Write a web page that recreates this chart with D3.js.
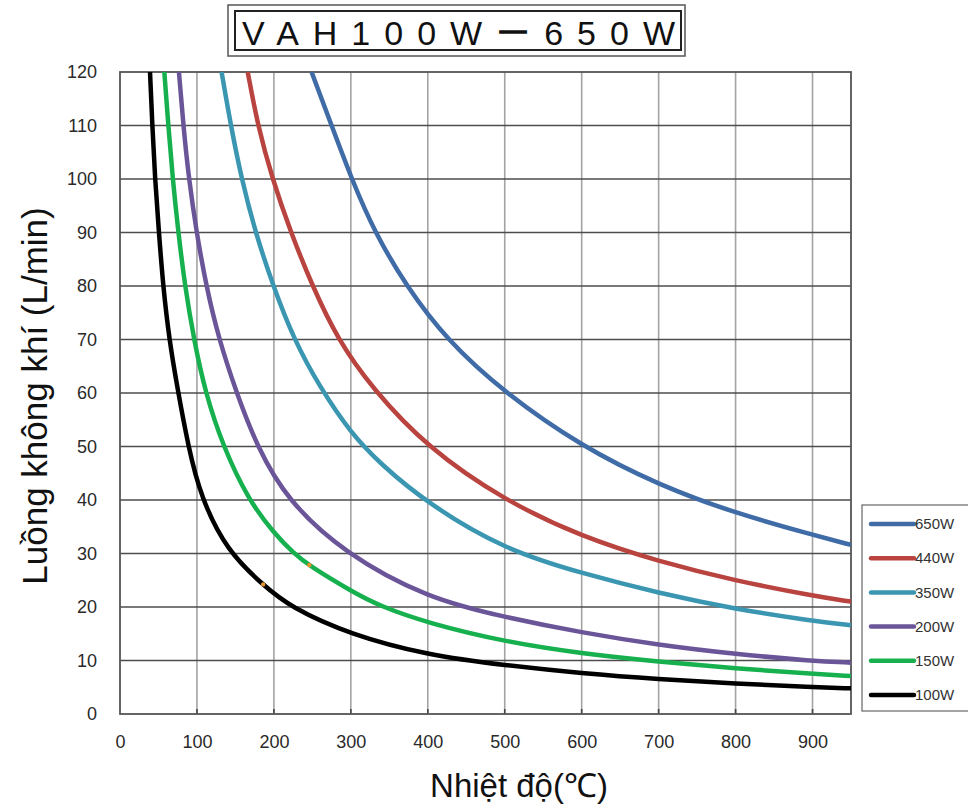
<!DOCTYPE html>
<html>
<head>
<meta charset="utf-8">
<script src="https://cdn.jsdelivr.net/npm/d3@7"></script>
<style>
  html, body { margin: 0; padding: 0; background: #fff; }
  svg { display: block; font-family: "Liberation Sans", Arial, sans-serif; }
</style>
</head>
<body>
<svg id="chart" width="968" height="805"></svg>
<script>
// ---- data: air flow (L/min) against temperature (°C) for each heater rating ----
const xTicks = [0, 100, 200, 300, 400, 500, 600, 700, 800, 900];
const yTicks = [0, 10, 20, 30, 40, 50, 60, 70, 80, 90, 100, 110, 120];
const seriesNames = ["650W", "440W", "350W", "200W", "150W", "100W"];

const flow650W = [[249,120],[275,110],[301,100],[331,90],[372,80],[424,70],[500,60],[600,50],[700,42.8],[800,37.5],[900,33.5],[950,31.6]];
const flow440W = [[166,120],[179,110],[198,100],[222,90],[250,80],[283,70],[327,61],[400,49.7],[500,39.9],[600,33.1],[700,28.5],[800,24.9],[900,22.1],[950,21.0]];
const flow350W = [[132,120],[144,110],[158,100],[176,90],[199,80],[226,70],[260,61],[300,52.5],[338,46.8],[400,39.3],[500,30.7],[600,26.3],[700,22.6],[800,19.6],[900,17.4],[950,16.6]];
const flow200W = [[76.6,120],[82.3,110],[89.5,100],[99.5,90],[112,80],[128.6,70],[151.5,60],[178,50],[217,40],[292,30],[400,21.6],[500,18.1],[600,15.2],[700,12.9],[800,11.2],[900,9.9],[950,9.6]];
const flow150W = [[57.6,120],[62.8,110],[68.5,100],[75.8,90],[84.4,80],[96,70],[111,60],[134,50],[167,40],[200,33.8],[226,30],[246,27.7],[300,23.0],[337,20.2],[400,17],[500,13.5],[600,11.3],[700,9.8],[800,8.5],[900,7.5],[950,7.1]];
const flow100W = [[39,120],[42,110],[45.5,100],[50.6,90],[56,80],[64,70],[74.5,61],[88.7,50],[105,40.5],[139,30.5],[186,24.1],[221,20],[300,14.8],[400,11],[500,9.1],[600,7.6],[700,6.5],[800,5.7],[900,5.0],[950,4.8]];

// small orange marks on the two lowest curves: [temperature, series index]
const markTemps = [[186, 5], [246, 4]];

const seriesData = [flow650W, flow440W, flow350W, flow200W, flow150W, flow100W];
const seriesColors = ["#3f6ba6", "#b9433f", "#3b96b2", "#6b5599", "#17b04f", "#000000"];

// ---- layout ----
const svg = d3.select("#chart");
const x = d3.scaleLinear().domain([0, 950]).range([120, 851]);
const y = d3.scaleLinear().domain([0, 120]).range([714, 72]);
const [x0, x1] = x.range();
const [y0, y1] = y.range();

svg.append("rect").attr("width", 968).attr("height", 805).attr("fill", "#fff");

// title box with double frame
const title = svg.append("g");
title.append("rect").attr("x", 228).attr("y", 5).attr("width", 457).attr("height", 51)
  .attr("fill", "#fff").attr("stroke", "#555").attr("stroke-width", 1.5);
title.append("rect").attr("x", 235).attr("y", 11).attr("width", 446).attr("height", 39)
  .attr("fill", "none").attr("stroke", "#222").attr("stroke-width", 2);
title.append("text").attr("x", 242).attr("y", 45)
  .attr("font-size", 34).attr("fill", "#111")
  .attr("textLength", 433).attr("lengthAdjust", "spacing")
  .text("VAH100Wー650W");

// grid
const grid = svg.append("g");
grid.selectAll("line.v").data(xTicks.filter(d => d > 0)).join("line")
  .attr("class", "v")
  .attr("x1", d => x(d)).attr("x2", d => x(d))
  .attr("y1", y1).attr("y2", y0)
  .attr("stroke", "#a3a3a3").attr("stroke-width", 1.6);
grid.selectAll("line.h").data(yTicks.filter(d => d > 0 && d < 120)).join("line")
  .attr("class", "h")
  .attr("x1", x0).attr("x2", x1)
  .attr("y1", d => y(d)).attr("y2", d => y(d))
  .attr("stroke", "#4d4d4d").attr("stroke-width", 1.6);
// short dark ticks along the bottom edge
grid.selectAll("line.t").data(xTicks.filter(d => d > 0)).join("line")
  .attr("class", "t")
  .attr("x1", d => x(d)).attr("x2", d => x(d))
  .attr("y1", y0 - 5).attr("y2", y0)
  .attr("stroke", "#444").attr("stroke-width", 1.6);

// plot frame
svg.append("rect").attr("x", x0).attr("y", y1).attr("width", x1 - x0).attr("height", y0 - y1)
  .attr("fill", "none").attr("stroke", "#555").attr("stroke-width", 1.8);

// axes labels
const yAxis = svg.append("g").attr("transform", `translate(${x0},0)`)
  .call(d3.axisLeft(y).tickValues(yTicks).tickSize(0).tickPadding(23));
const xAxis = svg.append("g").attr("transform", `translate(0,${y0})`)
  .call(d3.axisBottom(x).tickValues(xTicks).tickSize(0).tickPadding(21));
[yAxis, xAxis].forEach(a => {
  a.select(".domain").remove();
  a.selectAll("text").attr("font-size", 18).attr("fill", "#2a2a2a")
    .attr("font-family", "'Liberation Sans', Arial, sans-serif");
});

// axis titles
svg.append("text").attr("x", 519).attr("y", 797).attr("text-anchor", "middle")
  .attr("font-size", 33).attr("fill", "#111").text("Nhiệt độ(℃)");
svg.append("text").attr("transform", "translate(47,396) rotate(-90)")
  .attr("text-anchor", "middle").attr("font-size", 35).attr("fill", "#111")
  .text("Luồng không khí (L/min)");

// curves
svg.append("clipPath").attr("id", "plotClip")
  .append("rect").attr("x", x0).attr("y", y1).attr("width", x1 - x0).attr("height", y0 - y1);

const line = d3.line().x(d => x(d[0])).y(d => y(d[1])).curve(d3.curveBasis);
const curves = svg.append("g").attr("clip-path", "url(#plotClip)");
const paths = curves.selectAll("path").data(seriesData).join("path")
  .attr("d", line)
  .attr("fill", "none")
  .attr("stroke", (d, i) => seriesColors[i])
  .attr("stroke-width", 4.5)
  .attr("stroke-linejoin", "round");

// place each orange mark on its drawn curve at the given temperature
function pointOnPath(node, px) {
  let lo = 0, hi = node.getTotalLength();
  for (let k = 0; k < 40; k++) {
    const mid = (lo + hi) / 2;
    if (node.getPointAtLength(mid).x < px) lo = mid; else hi = mid;
  }
  return node.getPointAtLength((lo + hi) / 2);
}
const pathNodes = paths.nodes();
curves.selectAll("circle").data(markTemps).join("circle")
  .each(function (d) {
    const p = pointOnPath(pathNodes[d[1]], x(d[0]));
    d3.select(this).attr("cx", p.x).attr("cy", p.y);
  })
  .attr("r", 2.2)
  .attr("fill", "#e3922f");

// legend
const legend = svg.append("g");
legend.append("rect").attr("x", 862).attr("y", 505).attr("width", 110).attr("height", 206)
  .attr("fill", "#fff").attr("stroke", "#666").attr("stroke-width", 1.2);
const items = legend.selectAll("g.item").data(seriesNames).join("g")
  .attr("class", "item")
  .attr("transform", (d, i) => `translate(0,${524 + i * 34.2})`);
items.append("line").attr("x1", 871).attr("x2", 914).attr("y1", 0).attr("y2", 0)
  .attr("stroke", (d, i) => seriesColors[i]).attr("stroke-width", 4.5)
  .attr("stroke-linecap", "round");
items.append("text").attr("x", 915).attr("y", 0).attr("dy", "0.35em")
  .attr("font-size", 15).attr("fill", "#333").text(d => d);
</script>
</body>
</html>
